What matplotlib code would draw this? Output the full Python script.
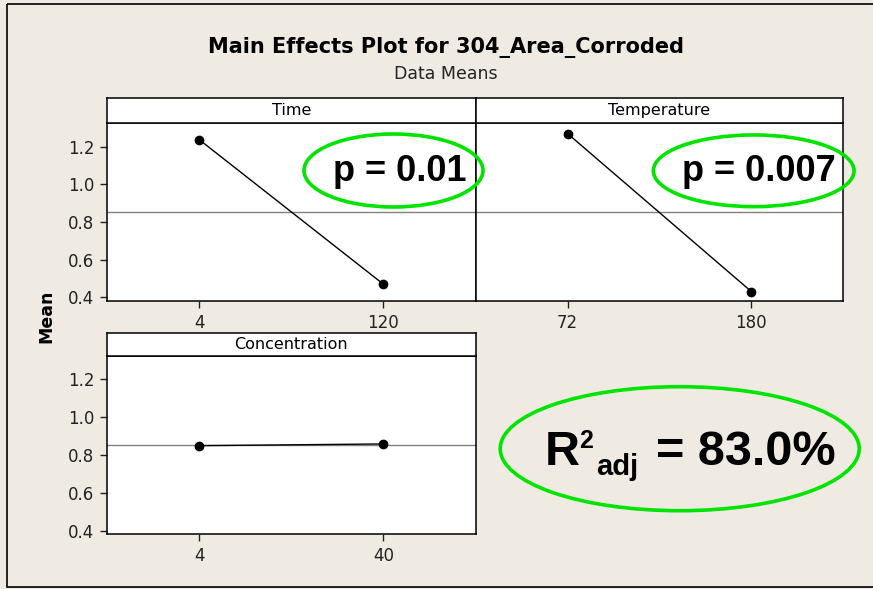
import matplotlib

matplotlib.use("Agg")
import matplotlib.pyplot as plt
from matplotlib.patches import Ellipse, Rectangle

W, H = 873, 589

# lecture du graphique Minitab
time_levels = ["4", "120"]
time_means = [1.237, 0.469]
temp_levels = ["72", "180"]
temp_means = [1.269, 0.430]
conc_levels = ["4", "40"]
conc_means = [0.849, 0.858]
grand_mean = 0.854
y_ticks = [0.4, 0.6, 0.8, 1.0, 1.2]

BG = "#efebe2"
GREEN = "#00e400"


def box(x0, y0, x1, y1):
    # pixels -> fraction de figure
    return [x0 / W, 1 - y1 / H, (x1 - x0) / W, (y1 - y0) / H]


def panel(fig, x0, x1, ytop, ystrip, ybot, title, levels, means, left_labels):
    ax = fig.add_axes(box(x0, ystrip, x1, ybot))
    ax.set_facecolor("white")
    pos = list(range(len(levels)))
    ax.axhline(grand_mean, color="#808080", lw=1.0, zorder=1)
    ax.plot(pos, means, "-", color="black", lw=1.0, zorder=2)
    ax.plot(pos, means, "o", color="black", ms=6, zorder=3)
    ax.set_xlim(-0.5, 1.5)
    ax.set_ylim(0.38, 1.325)
    ax.set_xticks(pos)
    ax.set_xticklabels(levels)
    ax.set_yticks(y_ticks)
    ax.set_yticklabels([f"{v:.1f}" for v in y_ticks])
    ax.tick_params(direction="out", length=5, width=1, pad=4,
                   labelsize=12, colors="#222222")
    if not left_labels:
        ax.tick_params(axis="y", left=False, labelleft=False)
    for s in ax.spines.values():
        s.set_linewidth(1.1)
    st = fig.add_axes(box(x0, ytop, x1, ystrip))
    st.set_facecolor("white")
    st.set_xticks([])
    st.set_yticks([])
    for s in st.spines.values():
        s.set_linewidth(1.1)
    st.text(0.5, 0.5, title, ha="center", va="center", fontsize=11.5,
            transform=st.transAxes)
    return ax


fig = plt.figure(figsize=(W / 100, H / 100), dpi=100)
fig.patch.set_facecolor(BG)

panel(fig, 107, 475.6, 98, 123, 301, "Time", time_levels, time_means, True)
panel(fig, 475.6, 843.3, 98, 123, 301, "Temperature", temp_levels, temp_means, False)
panel(fig, 107, 475.6, 333.3, 355.7, 534.3, "Concentration", conc_levels, conc_means, True)

# calque en pixels pour titres, cadre et annotations
ov = fig.add_axes([0, 0, 1, 1], zorder=10)
ov.set_xlim(0, W)
ov.set_ylim(H, 0)
ov.axis("off")
ov.patch.set_alpha(0)

ov.add_patch(Rectangle((7, 4), W, 583, fill=False, ec="black", lw=1.2))
ov.text(446, 53, "Main Effects Plot for 304_Area_Corroded", ha="center",
        va="baseline", fontsize=15, fontweight="bold")
ov.text(446, 79, "Data Means", ha="center", va="baseline", fontsize=12.5,
        color="#222222")
ov.text(46.5, 316.5, "Mean", rotation=90, ha="center", va="center",
        fontsize=12.5, fontweight="bold")

big = dict(family="Liberation Sans", fontweight="bold", va="baseline")
ov.add_patch(Ellipse((393.5, 170.5), 179, 73, fill=False, ec=GREEN, lw=2.6))
ov.text(333, 181, "p = 0.01", fontsize=26, **big)
ov.add_patch(Ellipse((753.7, 170.8), 200.7, 71.7, fill=False, ec=GREEN, lw=2.6))
ov.text(682, 181, "p = 0.007", fontsize=26, **big)

ov.add_patch(Ellipse((679.7, 448.7), 359, 124, fill=False, ec=GREEN, lw=2.6))
ov.text(545, 465, "R", fontsize=35, **big)
ov.text(579, 448, "2", fontsize=18, **big)
ov.text(596, 475, "adj", fontsize=21, **big)
ov.text(656, 465, "= 83.0%", fontsize=35, **big)

fig.savefig("out.png", dpi=100, facecolor=BG)
